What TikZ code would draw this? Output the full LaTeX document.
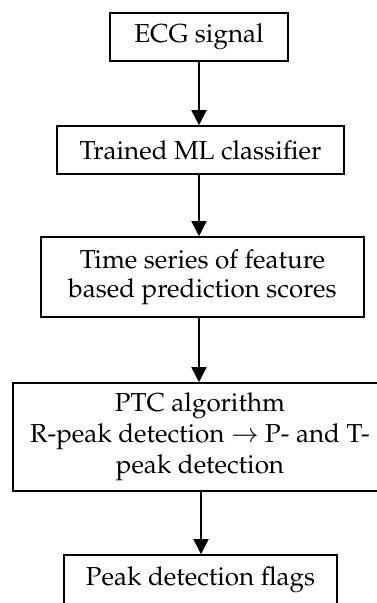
\documentclass[tikz,border=0pt]{standalone}
\usepackage[T1]{fontenc}
\usepackage{mathpazo}
\usetikzlibrary{arrows.meta}

\tikzset{
  stepbox/.style={draw=black, line width=1.6pt, inner sep=0pt, align=center,
    font=\fontsize{26}{29}\selectfont},
  flow/.style={line width=1.6pt, -{Triangle[width=15pt,length=15pt]}}
}

\begin{document}
\begin{tikzpicture}[x=1pt, y=-1pt]
  \useasboundingbox (0,0) rectangle (377,603);

  % processing stages, top to bottom
  \node[stepbox, minimum width=178pt, minimum height=48pt] (sig) at (199,37) {ECG signal};
  \node[stepbox, minimum width=287pt, minimum height=48pt] (clf) at (200.5,150) {Trained ML classifier};
  \node[stepbox, minimum width=323pt, minimum height=80pt] (ts) at (202.5,277)
    {Time series of feature\\based prediction scores};
  \node[stepbox, font=\fontsize{26}{31}\selectfont, minimum width=374pt, minimum height=108pt]
    (ptc) at (200,437)
    {PTC algorithm\\R-peak detection $\rightarrow$ P- and T-\\peak detection};
  \node[stepbox, minimum width=273pt, minimum height=50pt] (flags) at (200.5,580) {Peak detection flags};

  % vertical connectors
  \draw[flow] (sig.south -| 199,0) -- (clf.north -| 199,0);
  \draw[flow] (clf.south -| 199,0) -- (ts.north -| 199,0);
  \draw[flow] (ts.south -| 199,0) -- (ptc.north -| 199,0);
  \draw[flow] (ptc.south -| 201,0) -- (flags.north -| 201,0);
\end{tikzpicture}
\end{document}
